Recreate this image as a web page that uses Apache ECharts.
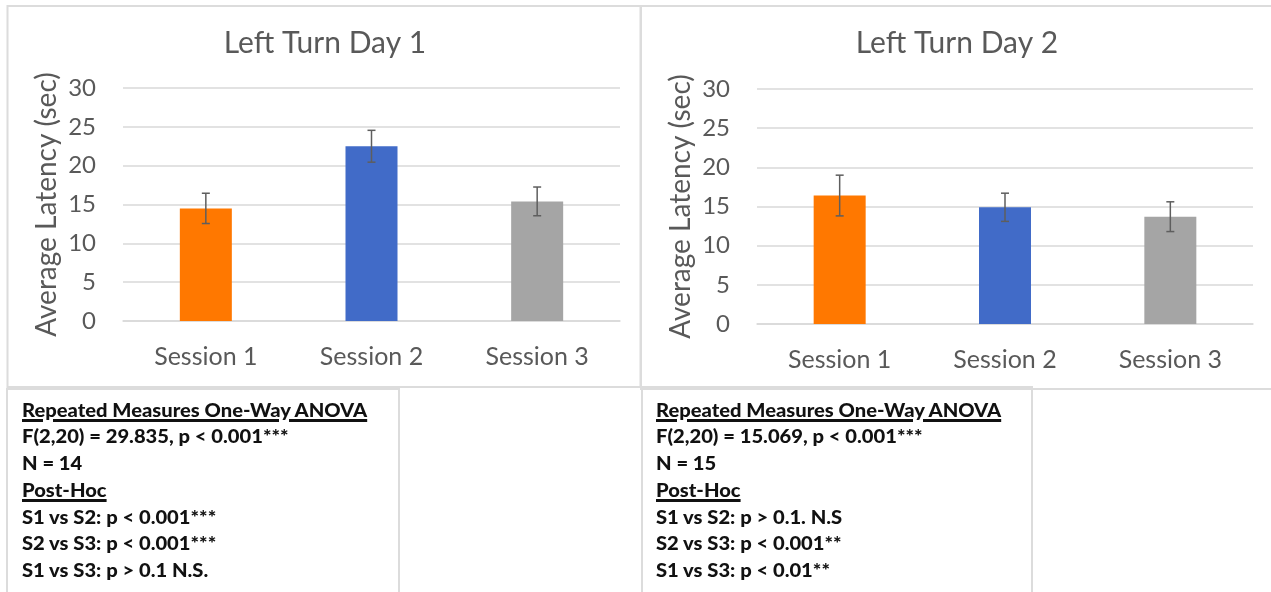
<!DOCTYPE html>
<html><head><meta charset="utf-8">
<script src="https://cdn.jsdelivr.net/npm/echarts@6/dist/echarts.min.js"></script>
<style>
html,body{margin:0;padding:0;background:#fff;overflow:hidden;}
#chart{position:absolute;left:0;top:0;width:1271px;height:592px;}
.line{position:absolute;white-space:nowrap;font-family:Lato,'Open Sans',sans-serif;font-weight:900;color:#111;font-size:18px;line-height:20px;transform-origin:0 50%;}
.u{text-decoration:underline;text-decoration-thickness:2.5px;text-underline-offset:2px;}
</style></head>
<body><div id="chart"></div><div id="stats"></div>
<script>
const categories = ['Session 1', 'Session 2', 'Session 3'];
const day1Means = [14.5, 22.5, 15.4];
const day1Errors = [1.95, 2.05, 1.85];
const day2Means = [16.4, 14.9, 13.7];
const day2Errors = [2.6, 1.8, 1.9];
const barColors = ['#FF7800', '#416BC8', '#A5A5A5'];
const chartTitles = ['Left Turn Day 1', 'Left Turn Day 2'];
const yAxisName = 'Average Latency (sec)';
const yMin = 0, yMax = 30, yStep = 5;
const day1Stats = ['Repeated Measures One-Way ANOVA', 'F(2,20) = 29.835, p < 0.001***', 'N = 14', 'Post-Hoc', 'S1 vs S2: p < 0.001***', 'S2 vs S3: p < 0.001***', 'S1 vs S3: p > 0.1 N.S.'];
const day2Stats = ['Repeated Measures One-Way ANOVA', 'F(2,20) = 15.069, p < 0.001***', 'N = 15', 'Post-Hoc', 'S1 vs S2: p > 0.1. N.S', 'S2 vs S3: p < 0.001**', 'S1 vs S3: p < 0.01**'];
const underlinedRows = [0, 3];

const txt = '#595959';
const font = 'Lato, "Open Sans", sans-serif';

function grid(i) {
  return i === 0 ? {left: 123, right: 651, top: 88, height: 233} : {left: 757, right: 18, top: 89, height: 235};
}
const grids = [grid(0), grid(1)];
const xAxes = [0, 1].map(i => ({
  type: 'category', gridIndex: i, data: categories,
  axisLine: {show: true, lineStyle: {color: '#d9d9d9', width: 1.5}},
  axisTick: {show: false},
  axisLabel: {color: txt, fontSize: 25, fontFamily: font, margin: 23}
}));
const yAxes = [0, 1].map(i => ({
  type: 'value', gridIndex: i, min: yMin, max: yMax, interval: yStep,
  name: yAxisName, nameLocation: 'middle', nameGap: 62,
  nameTextStyle: {color: txt, fontSize: 28, fontFamily: font},
  axisLine: {show: false}, axisTick: {show: false},
  splitLine: {lineStyle: {color: '#d9d9d9', width: 1.5}},
  axisLabel: {color: txt, fontSize: 24, fontFamily: font, margin: 27}
}));

function barSeries(i, means) {
  return {
    type: 'bar', xAxisIndex: i, yAxisIndex: i, barWidth: 52,
    data: means.map((v, k) => ({value: v, itemStyle: {color: barColors[k]}})),
    silent: true
  };
}
function errSeries(i, means, errs) {
  return {
    type: 'custom', xAxisIndex: i, yAxisIndex: i, silent: true, z: 5,
    data: means.map((v, k) => [k, v - errs[k], v + errs[k]]),
    renderItem: function (params, api) {
      const lo = api.coord([api.value(0), api.value(1)]);
      const hi = api.coord([api.value(0), api.value(2)]);
      const w = 4;
      const st = {stroke: '#5e5e5e', lineWidth: 1.5};
      return {type: 'group', children: [
        {type: 'line', shape: {x1: lo[0], y1: lo[1], x2: hi[0], y2: hi[1]}, style: st},
        {type: 'line', shape: {x1: lo[0] - w, y1: lo[1], x2: lo[0] + w, y2: lo[1]}, style: st},
        {type: 'line', shape: {x1: hi[0] - w, y1: hi[1], x2: hi[0] + w, y2: hi[1]}, style: st}
      ]};
    }
  };
}

const borderStyle = {stroke: '#dcdcdc', lineWidth: 2, fill: 'none'};
const titleStyle = {color: txt, fontSize: 30, fontWeight: 'normal', fontFamily: font};
const option = {
  animation: false,
  backgroundColor: '#fff',
  title: [
    {text: chartTitles[0], left: 320, top: 23, textAlign: 'center', textStyle: titleStyle},
    {text: chartTitles[1], left: 952, top: 23, textAlign: 'center', textStyle: titleStyle}
  ],
  grid: grids,
  xAxis: xAxes,
  yAxis: yAxes,
  series: [barSeries(0, day1Means), errSeries(0, day1Means, day1Errors), barSeries(1, day2Means), errSeries(1, day2Means, day2Errors)],
  graphic: [
    {type: 'rect', shape: {x: 7.5, y: 6, width: 633, height: 381}, style: borderStyle, silent: true},
    {type: 'rect', shape: {x: 641, y: 6, width: 640, height: 383}, style: borderStyle, silent: true},
    {type: 'rect', shape: {x: 7, y: 389, width: 392, height: 220}, style: borderStyle, silent: true},
    {type: 'rect', shape: {x: 642, y: 387, width: 390, height: 220}, style: borderStyle, silent: true}
  ]
};
const chart = echarts.init(document.getElementById('chart'), null, {renderer: 'canvas'});
chart.setOption(option);

const rowY = [410, 436, 463, 490, 517, 543, 570];
const stats = document.getElementById('stats');
function addStats(lines, x) {
  lines.forEach((t, k) => {
    const d = document.createElement('div');
    d.className = 'line' + (underlinedRows.includes(k) ? ' u' : '');
    d.textContent = t;
    d.style.left = x + 'px';
    d.style.top = (rowY[k] - 10) + 'px';
    d.style.transform = 'scaleX(1.12)';
    stats.appendChild(d);
  });
}
addStats(day1Stats, 22);
addStats(day2Stats, 656);
</script>
</body></html>
